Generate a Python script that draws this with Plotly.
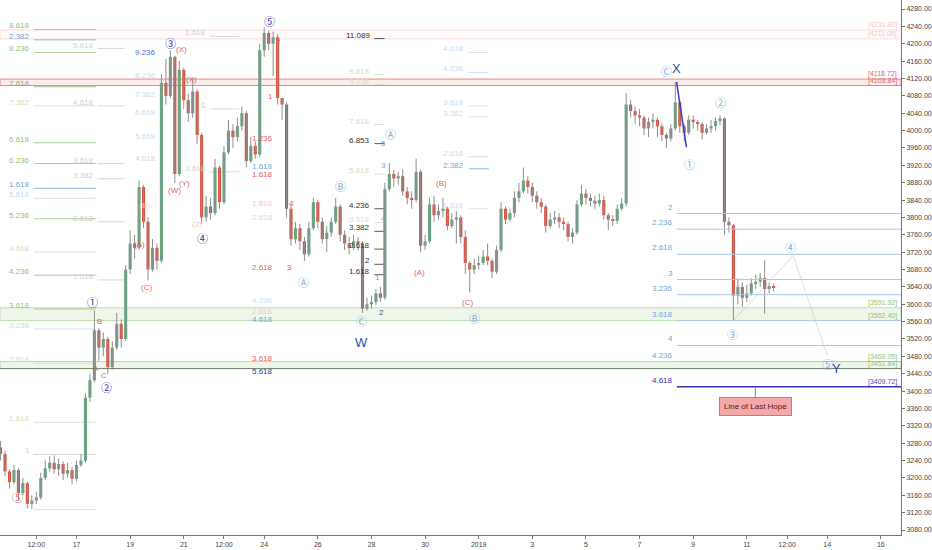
import pandas as pd
import plotly.graph_objects as go

# 4h candles, Dec 14 2018 -> Jan 12 2019
first_open = 3270
closes = [3255, 3215, 3190, 3218, 3165, 3188, 3140, 3148, 3155, 3200,
          3222, 3235, 3220, 3232, 3210, 3218, 3198, 3230, 3240, 3385,
          3425, 3540, 3500, 3520, 3455, 3500, 3555, 3520, 3680, 3740,
          3730, 3870, 3790, 3680, 3730, 3700, 4110, 4080, 4170, 3900,
          4140, 4070, 4040, 4090, 3990, 3800, 3825, 3810, 3915, 3835,
          3950, 4000, 3985, 4010, 4040, 3930, 3965, 3945, 4185, 4225,
          4200, 4215, 4075, 4060, 3820, 3750, 3775, 3745, 3715, 3775,
          3835, 3790, 3750, 3765, 3790, 3825, 3760, 3740, 3730, 3745,
          3740, 3590, 3600, 3605, 3625, 3615, 3865, 3900, 3890, 3895,
          3860, 3845, 3840, 3905, 3735, 3745, 3830, 3805, 3815, 3820,
          3780, 3795, 3800, 3755, 3695, 3680, 3690, 3695, 3710, 3700,
          3675, 3725, 3820, 3795, 3810, 3845, 3860, 3885, 3870, 3850,
          3835, 3825, 3780, 3795, 3800, 3790, 3785, 3755, 3765, 3830,
          3855, 3845, 3838, 3832, 3840, 3805, 3795, 3792, 3820, 3832,
          4060, 4045, 4035, 4030, 4005, 4020, 4025, 4010, 3990, 3982,
          4005, 4065, 4010, 3995, 4025, 4020, 4015, 3995, 4005, 4010,
          4022, 4028, 3790, 3782, 3620, 3640, 3615, 3625, 3648, 3652,
          3660, 3635, 3642, 3638]
highs = [3285, 3262, 3220, 3230, 3222, 3200, 3192, 3160, 3168, 3212,
         3240, 3250, 3252, 3245, 3238, 3235, 3225, 3240, 3255, 3395,
         3440, 3585, 3545, 3535, 3525, 3515, 3580, 3565, 3690, 3770,
         3760, 3885, 3875, 3800, 3750, 3740, 4130, 4165, 4185, 4172,
         4160, 4145, 4085, 4120, 4095, 3995, 3850, 3845, 3935, 3920,
         3965, 4025, 4015, 4030, 4055, 4045, 3985, 3975, 4200, 4238,
         4230, 4228, 4222, 4075, 4065, 3830, 3790, 3785, 3755, 3790,
         3845, 3840, 3800, 3780, 3800, 3845, 3830, 3770, 3755, 3760,
         3755, 3745, 3615, 3620, 3635, 3640, 3880, 3925, 3910, 3905,
         3910, 3870, 3860, 3935, 3910, 3760, 3845, 3850, 3830, 3845,
         3825, 3810, 3815, 3805, 3770, 3700, 3705, 3712, 3725, 3740,
         3705, 3735, 3835, 3825, 3820, 3860, 3880, 3915, 3895, 3880,
         3860, 3845, 3830, 3810, 3815, 3810, 3800, 3790, 3775, 3840,
         3875, 3865, 3855, 3850, 3855, 3850, 3810, 3805, 3830, 3845,
         4086, 4070, 4055, 4050, 4035, 4030, 4040, 4030, 4015, 3995,
         4015, 4112, 4070, 4015, 4035, 4035, 4025, 4020, 4015, 4025,
         4030, 4035, 4030, 3800, 3785, 3660, 3650, 3645, 3660, 3668,
         3672, 3701, 3650, 3648]
lows = [3240, 3205, 3175, 3185, 3150, 3160, 3130, 3128, 3140, 3150,
        3195, 3215, 3210, 3205, 3195, 3200, 3185, 3192, 3225, 3235,
        3375, 3420, 3470, 3480, 3440, 3450, 3495, 3500, 3515, 3670,
        3705, 3725, 3775, 3655, 3675, 3680, 3695, 4060, 4075, 3880,
        3895, 4050, 4020, 4030, 3970, 3785, 3790, 3795, 3805, 3820,
        3830, 3945, 3960, 3975, 4000, 3915, 3925, 3935, 3940, 4170,
        4185, 4125, 4060, 4025, 3800, 3735, 3740, 3725, 3700, 3710,
        3770, 3775, 3740, 3720, 3755, 3785, 3745, 3725, 3715, 3725,
        3725, 3580, 3585, 3590, 3598, 3605, 3610, 3860, 3870, 3875,
        3850, 3830, 3820, 3835, 3720, 3725, 3740, 3790, 3795, 3800,
        3770, 3775, 3740, 3740, 3670, 3627, 3670, 3680, 3690, 3690,
        3660, 3670, 3720, 3785, 3790, 3800, 3835, 3855, 3855, 3835,
        3820, 3810, 3765, 3775, 3785, 3775, 3770, 3745, 3740, 3760,
        3825, 3830, 3825, 3820, 3825, 3795, 3770, 3780, 3785, 3815,
        3825, 4030, 4015, 4010, 3990, 3985, 4005, 3985, 3975, 3960,
        3975, 4000, 3995, 3975, 3990, 4005, 4000, 3980, 3990, 3995,
        4000, 4012, 3760, 3765, 3562, 3600, 3595, 3605, 3620, 3635,
        3640, 3578, 3625, 3630]

times = pd.date_range("2018-12-14 04:00", periods=len(closes), freq="4h")
opens = [first_open] + closes[:-1]

# zones with their price tags on the right
red_zone = [4103.84, 4118.72]
pink_zone = [4211.06, 4231.82]
green_zone = [3562.40, 3591.92]
green_zone2 = [3451.84, 3468.05]
last_hope = 3409.72

# fib extension on the right side
ext_labels = ["2", "2.236", "2.618", "3", "3.236", "3.618", "4", "4.236", "4.618"]
ext_prices = [3809, 3773, 3715, 3657, 3622, 3562.40, 3505, 3468.05, 3409.72]

BASE = pd.Timestamp("2018-12-17")


def day(d):
    return (BASE + pd.Timedelta(days=d)).strftime("%Y-%m-%d %H:%M")


UP, DN, WICK = "#6ba583", "#d75442", "#8e8e8e"
G, GF = "#93c47d", "#cfe2c4"
B, BF = "#6fa8dc", "#c9dcef"
K, KF = "#333333", "#d0d0d0"
P, PF = "#e06666", "#f4c7c3"
NAVY = "#3535b0"
FONT = "Liberation Sans"

# fib label columns: label x (day), line start, line end, [(text, price, colour)]
fib_cols = [
    (-1.66, -1.59, 0.72, [("8.618", 4241, G), ("2.382", 4217, B), ("8.236", 4188, G),
                          ("7.618", 4109, "#98a878"), ("7.382", 4065, GF), ("6.618", 3980, G),
                          ("6.236", 3932, G), ("1.618", 3875, B), ("5.618", 3852, BF),
                          ("5.236", 3805, G), ("4.618", 3728, GF), ("4.236", 3675, G),
                          ("3.618", 3597, G), ("3.236", 3551, BF), ("2.618", 3472, GF),
                          ("1.618", 3336, GF), ("1", 3262, KF), ("0", 3135, BF)]),
    (0.72, 0.79, 1.80, [("5.618", 4197, KF), ("4.618", 4065, KF), ("3.618", 3932, KF),
                        ("3.382", 3897, KF), ("2.618", 3798, KF), ("1.618", 3664, KF)]),
    (3.03, None, None, [("9.236", 4181, "#4a78d0"), ("8.236", 4128, BF), ("7.382", 4082, BF),
                        ("6.618", 4042, BF), ("5.618", 3987, BF), ("4.618", 3936, BF)]),
    (4.90, 4.97, 6.08, [("1.618", 4225, KF), ("1", 4058, KF), ("3.618", 3913, KF)]),
    (7.39, None, None, [("1.236", 3982, P), ("1.618", 3918, B), ("1.618", 3899, P),
                        ("1.618", 3832, PF), ("2.618", 3800, BF), ("2.618", 3685, P),
                        ("4.236", 3608, BF), ("2.618", 3583, PF), ("4.618", 3565, B),
                        ("3.618", 3475, P), ("5.618", 3445, NAVY)]),
    (11.03, 11.11, 11.49, [("11.089", 4220, K), ("9.618", 4137, GF), ("9.236", 4114, GF),
                           ("7.618", 4022, GF), ("6.853", 3978, K), ("5.618", 3908, GF),
                           ("4.236", 3828, K), ("3.618", 3796, GF), ("3.382", 3776, K),
                           ("2.618", 3735, K), ("2", 3700, K), ("1.618", 3676, K)]),
    (14.53, 14.64, 15.38, [("4.618", 4188, BF), ("4.236", 4142, BF), ("3.618", 4065, BF),
                           ("3.382", 4040, BF), ("2.618", 3948, BF), ("2.382", 3920, B),
                           ("1.618", 3828, BF)]),
]

# elliott wave labels (text, day, price)
navy_circled = [("①", 0.61, 3606), ("②", 1.13, 3410), ("③", 3.51, 4202),
                ("④", 4.70, 3752), ("⑤", 7.19, 4252)]
blue_circled = [("Ⓐ", 8.46, 3652), ("Ⓑ", 9.84, 3872), ("Ⓒ", 10.62, 3562),
                ("Ⓐ", 11.70, 3992), ("Ⓑ", 14.86, 3569), ("Ⓒ", 22.01, 4137),
                ("①", 22.86, 3922), ("②", 24.01, 4065), ("③", 24.46, 3532),
                ("④", 26.62, 3731), ("⑤", 28.00, 3463)]
red_circled = [("⑤", -2.22, 3156)]
red_marks = [("A", 0.72, 3452), ("B", 0.87, 3560), ("C", 1.02, 3437),
             ("(A)", 2.36, 3738), ("(C)", 2.62, 3638), ("(W)", 3.66, 3862),
             ("(Y)", 4.03, 3878), ("(X)", 3.93, 4186), ("(X)", 4.29, 4118),
             ("(A)", 12.78, 3673), ("(B)", 13.63, 3878), ("(C)", 14.60, 3604),
             ("1", 7.23, 4079), ("2", 7.53, 4206), ("3", 7.94, 3685), ("4", 8.01, 3832)]
faint_red_marks = [("(B)", 2.54, 3828), ("(Z)", 4.52, 3784)]
big_letters = [("W", 10.62, 3512), ("X", 22.38, 4144), ("Y", 28.33, 3452)]
small_blue = [("1", 11.21, 3662), ("3", 11.44, 3920), ("4", 11.44, 3798), ("5", 11.44, 3971)]

x_line_days = [22.38, 22.75]
x_line_prices = [4112, 3962]
proj_days = [24.50, 26.73, 28.0]
proj_prices = [3562, 3712, 3482]

tick_days = [-1.5, 0, 2, 4, 5.5, 7, 9, 11, 13, 15, 17, 19, 21, 23, 25, 26.5, 28, 30]
tick_text = ["12:00", "17", "19", "21", "12:00", "24", "26", "28", "30", "2019",
             "3", "5", "7", "9", "11", "12:00", "14", "16"]

fig = go.Figure()

# wicks
wx, wy = [], []
for t, h, l in zip(times, highs, lows):
    wx += [t, t, None]
    wy += [l, h, None]
fig.add_trace(go.Scatter(x=wx, y=wy, mode="lines", line=dict(color=WICK, width=1),
                         hoverinfo="skip"))

# bodies
fig.add_trace(go.Bar(
    x=times,
    y=[max(abs(c - o), 1.5) for o, c in zip(opens, closes)],
    base=[min(o, c) for o, c in zip(opens, closes)],
    marker=dict(color=[UP if c >= o else DN for o, c in zip(opens, closes)], line_width=0),
    width=4 * 3600 * 1000 * 0.7,
))

shapes = []
annos = []


def band(lo, hi, fill, edge):
    shapes.append(dict(type="rect", xref="paper", x0=0, x1=1, yref="y", y0=lo, y1=hi,
                       fillcolor=fill, line=dict(color=edge, width=1), layer="below"))


band(*pink_zone, "rgba(240,120,120,0.04)", "rgba(240,160,160,0.35)")
band(*red_zone, "rgba(240,100,100,0.12)", "rgba(224,102,102,0.75)")
band(*green_zone, "rgba(147,196,125,0.16)", "rgba(147,196,125,0.55)")
band(*green_zone2, "rgba(147,196,125,0.16)", "rgba(147,196,125,0.6)")
shapes.append(dict(type="line", xref="paper", x0=0, x1=1, yref="y",
                   y0=green_zone2[0], y1=green_zone2[0],
                   line=dict(color="rgba(90,100,90,0.75)", width=1)))

# right fib extension
for lab, pr in zip(ext_labels, ext_prices):
    col = NAVY if lab == "4.618" else "#a9c8ea"
    shapes.append(dict(type="line", xref="x", x0=day(22.39), x1=day(31), yref="y",
                       y0=pr, y1=pr, line=dict(color=col, width=1.5 if lab == "4.618" else 1)))
    annos.append(dict(x=day(22.34), y=pr, text=lab, xanchor="right", yanchor="bottom",
                      showarrow=False, font=dict(size=8, color=NAVY if lab == "4.618" else B)))

# fib label columns
for xl, x0, x1, items in fib_cols:
    for lab, pr, col in items:
        annos.append(dict(x=day(xl), y=pr, text=lab, xanchor="right", yanchor="middle",
                          showarrow=False, font=dict(size=8, color=col)))
        if x0 is not None:
            shapes.append(dict(type="line", xref="x", x0=day(x0), x1=day(x1), yref="y",
                               y0=pr - 8, y1=pr - 8, line=dict(color=col, width=1),
                               opacity=0.8, layer="below"))

# price tags on the right
tags = [(pink_zone[1], PF), (pink_zone[0], PF), (red_zone[1], P), (red_zone[0], P),
        (green_zone[1], G), (green_zone[0], G), (green_zone2[1], G), (green_zone2[0], G),
        (last_hope, "#5050c8")]
for pr, col in tags:
    annos.append(dict(xref="paper", x=0.997, y=pr, text="[%.2f]" % pr, xanchor="right",
                      yanchor="bottom", showarrow=False, borderpad=0,
                      font=dict(size=7, color=col)))

# wave labels
for items, col, size, fam in [
    (navy_circled, NAVY, 11, "Noto Sans CJK JP"),
    (blue_circled, "#7eaee0", 11, "Noto Sans CJK JP"),
    (red_circled, P, 11, "Noto Sans CJK JP"),
    (red_marks, P, 8, FONT),
    (faint_red_marks, PF, 8, FONT),
    (big_letters, "#2f4f9f", 13, FONT),
    (small_blue, B, 8, FONT),
]:
    for txt, d, pr in items:
        annos.append(dict(x=day(d), y=pr, text=txt, showarrow=False,
                          font=dict(size=size, color=col, family=fam)))
annos.append(dict(x=day(11.36), y=3581, text="2", showarrow=False,
                  font=dict(size=8, color="#555555")))

fig.add_trace(go.Scatter(x=[day(d) for d in x_line_days], y=x_line_prices, mode="lines",
                         line=dict(color="#3a3ad0", width=1.5), hoverinfo="skip"))
fig.add_trace(go.Scatter(x=[day(d) for d in proj_days], y=proj_prices, mode="lines",
                         line=dict(color="rgba(160,160,160,0.35)", width=1), hoverinfo="skip"))

annos.append(dict(x=day(25.32), y=last_hope, text="Line of Last Hope", showarrow=True,
                  arrowhead=0, arrowcolor="#e06666", arrowwidth=1, ax=0, ay=20,
                  bgcolor="#f3a9a9", bordercolor="#e07070", borderwidth=1, borderpad=4,
                  font=dict(size=8, color="#5a1a1a")))

fig.update_layout(
    width=932, height=550,
    margin=dict(l=0, r=29, t=0, b=15),
    paper_bgcolor="white", plot_bgcolor="white",
    showlegend=False, hovermode=False,
    font=dict(family=FONT, size=8, color="#444444"),
    shapes=shapes, annotations=annos,
    xaxis=dict(type="date", range=[day(-2.854), day(30.752)], showgrid=False, zeroline=False,
               tickvals=[day(d) for d in tick_days], ticktext=tick_text, tickangle=0,
               showline=True, linecolor="#777777", ticks="outside", ticklen=3,
               tickcolor="#777777", tickfont=dict(size=7, color="#444444")),
    yaxis=dict(side="right", range=[3068.5, 4300.8], showgrid=False, zeroline=False,
               tick0=3080, dtick=40, tickformat=".2f", showline=True, linecolor="#777777",
               ticks="outside", ticklen=3, tickcolor="#777777",
               tickfont=dict(size=7, color="#444444")),
)

fig.write_html("out.html", config={"displayModeBar": False},
               post_script="document.body.style.margin='0px';")
